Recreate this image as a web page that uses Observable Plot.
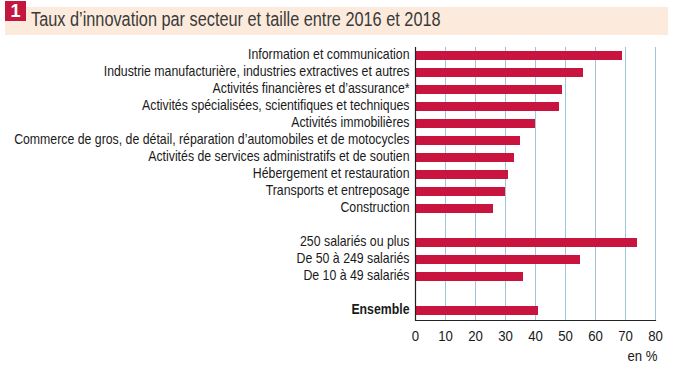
<!DOCTYPE html>
<html>
<head>
<meta charset="utf-8">
<script src="https://cdn.jsdelivr.net/npm/d3@7"></script>
<script src="https://cdn.jsdelivr.net/npm/@observablehq/plot@0.6"></script>
<style>
  body { margin: 0; background: #fff; font-family: "Liberation Sans", Arial, sans-serif; }
  #wrap { position: relative; width: 689px; height: 366px; overflow: hidden; }
  #band { position: absolute; left: 5px; top: 7px; width: 663px; height: 28px; background: #fcebdd; }
  #badge { position: absolute; left: 5px; top: 1px; width: 21px; height: 20px; background: #c41740; color: #fff; font: bold 18px "Liberation Sans", Arial, sans-serif; text-align: center; line-height: 20px; }
  #title { position: absolute; left: 31px; top: 8px; font-size: 20px; color: #3a3a3a; white-space: nowrap; font-family: "Liberation Sans", Arial, sans-serif; transform: scaleX(0.815); transform-origin: 0 50%; }
  #chart { position: absolute; left: 0; top: 36px; }
</style>
</head>
<body>
<div id="wrap">
  <div id="band"></div>
  <div id="badge">1</div>
  <div id="title">Taux d’innovation par secteur et taille entre 2016 et 2018</div>
  <div id="chart"></div>
</div>
<script>
const sectors = [
  "Information et communication",
  "Industrie manufacturière, industries extractives et autres",
  "Activités financières et d’assurance*",
  "Activités spécialisées, scientifiques et techniques",
  "Activités immobilières",
  "Commerce de gros, de détail, réparation d’automobiles et de motocycles",
  "Activités de services administratifs et de soutien",
  "Hébergement et restauration",
  "Transports et entreposage",
  "Construction"
];
const sectorValues = [69, 56, 49, 48, 40, 35, 33, 31, 30, 26];
const sizes = ["250 salariés ou plus", "De 50 à 249 salariés", "De 10 à 49 salariés"];
const sizeValues = [74, 55, 36];
const totalLabel = "Ensemble";
const totalValue = 41;
const xTicks = [0, 10, 20, 30, 40, 50, 60, 70, 80];
const unitLabel = "en %";

const data = [
  ...sectors.map((label, i) => ({label, value: sectorValues[i]})),
  ...sizes.map((label, i) => ({label, value: sizeValues[i]})),
  {label: totalLabel, value: totalValue}
];
const domain = [...sectors, "gap1", ...sizes, "gap2", totalLabel];

const chart = Plot.plot({
  width: 689,
  height: 330,
  marginTop: 11,
  marginBottom: 46,
  marginLeft: 415,
  marginRight: 34,
  style: {fontFamily: "'Liberation Sans', Arial, sans-serif", fontSize: "14px", color: "#1a1a1a", background: "transparent"},
  x: {domain: [0, 80]},
  y: {domain, padding: 0.47, paddingOuter: 0},
  marks: [
    Plot.gridX(xTicks, {stroke: "#9fc6da", strokeOpacity: 1, strokeWidth: 1}),
    Plot.barX(data, {x: "value", y: "label", fill: "#c8143f"}),
    Plot.ruleX([0], {stroke: "#222", strokeWidth: 1.2}),
    Plot.frame({anchor: "bottom", stroke: "#222", strokeWidth: 1.2}),
    Plot.axisX({ticks: xTicks, tickSize: 0, tickPadding: 10, label: null, fontSize: 15}),
    Plot.axisY({tickSize: 0, tickPadding: 6, dy: -1, label: null,
      tickFormat: d => (d === totalLabel || d.startsWith("gap")) ? "" : d}),
    Plot.text([totalLabel], {x: 0, y: d => d, dx: -6, dy: -1, textAnchor: "end", fontWeight: "bold"}),
    Plot.text([unitLabel], {frameAnchor: "bottom-right", dy: 40, dx: 2, fontSize: 15})
  ]
});
document.getElementById("chart").append(chart);

// Narrow the glyphs around each text's own anchor point to mimic the condensed typeface
const SVGNS = "http://www.w3.org/2000/svg";
Array.from(chart.querySelectorAll("text")).forEach(text => {
  if (!text.textContent) return;
  const anchor = getComputedStyle(text).textAnchor;
  const g = document.createElementNS(SVGNS, "g");
  text.parentNode.insertBefore(g, text);
  g.appendChild(text);
  const b = g.getBBox();
  const px = anchor === "end" ? b.x + b.width : anchor === "middle" ? b.x + b.width / 2 : b.x;
  const py = b.y + b.height / 2;
  g.setAttribute("transform", `translate(${px},${py}) scale(0.88,1) translate(${-px},${-py})`);
});
</script>
</body>
</html>
